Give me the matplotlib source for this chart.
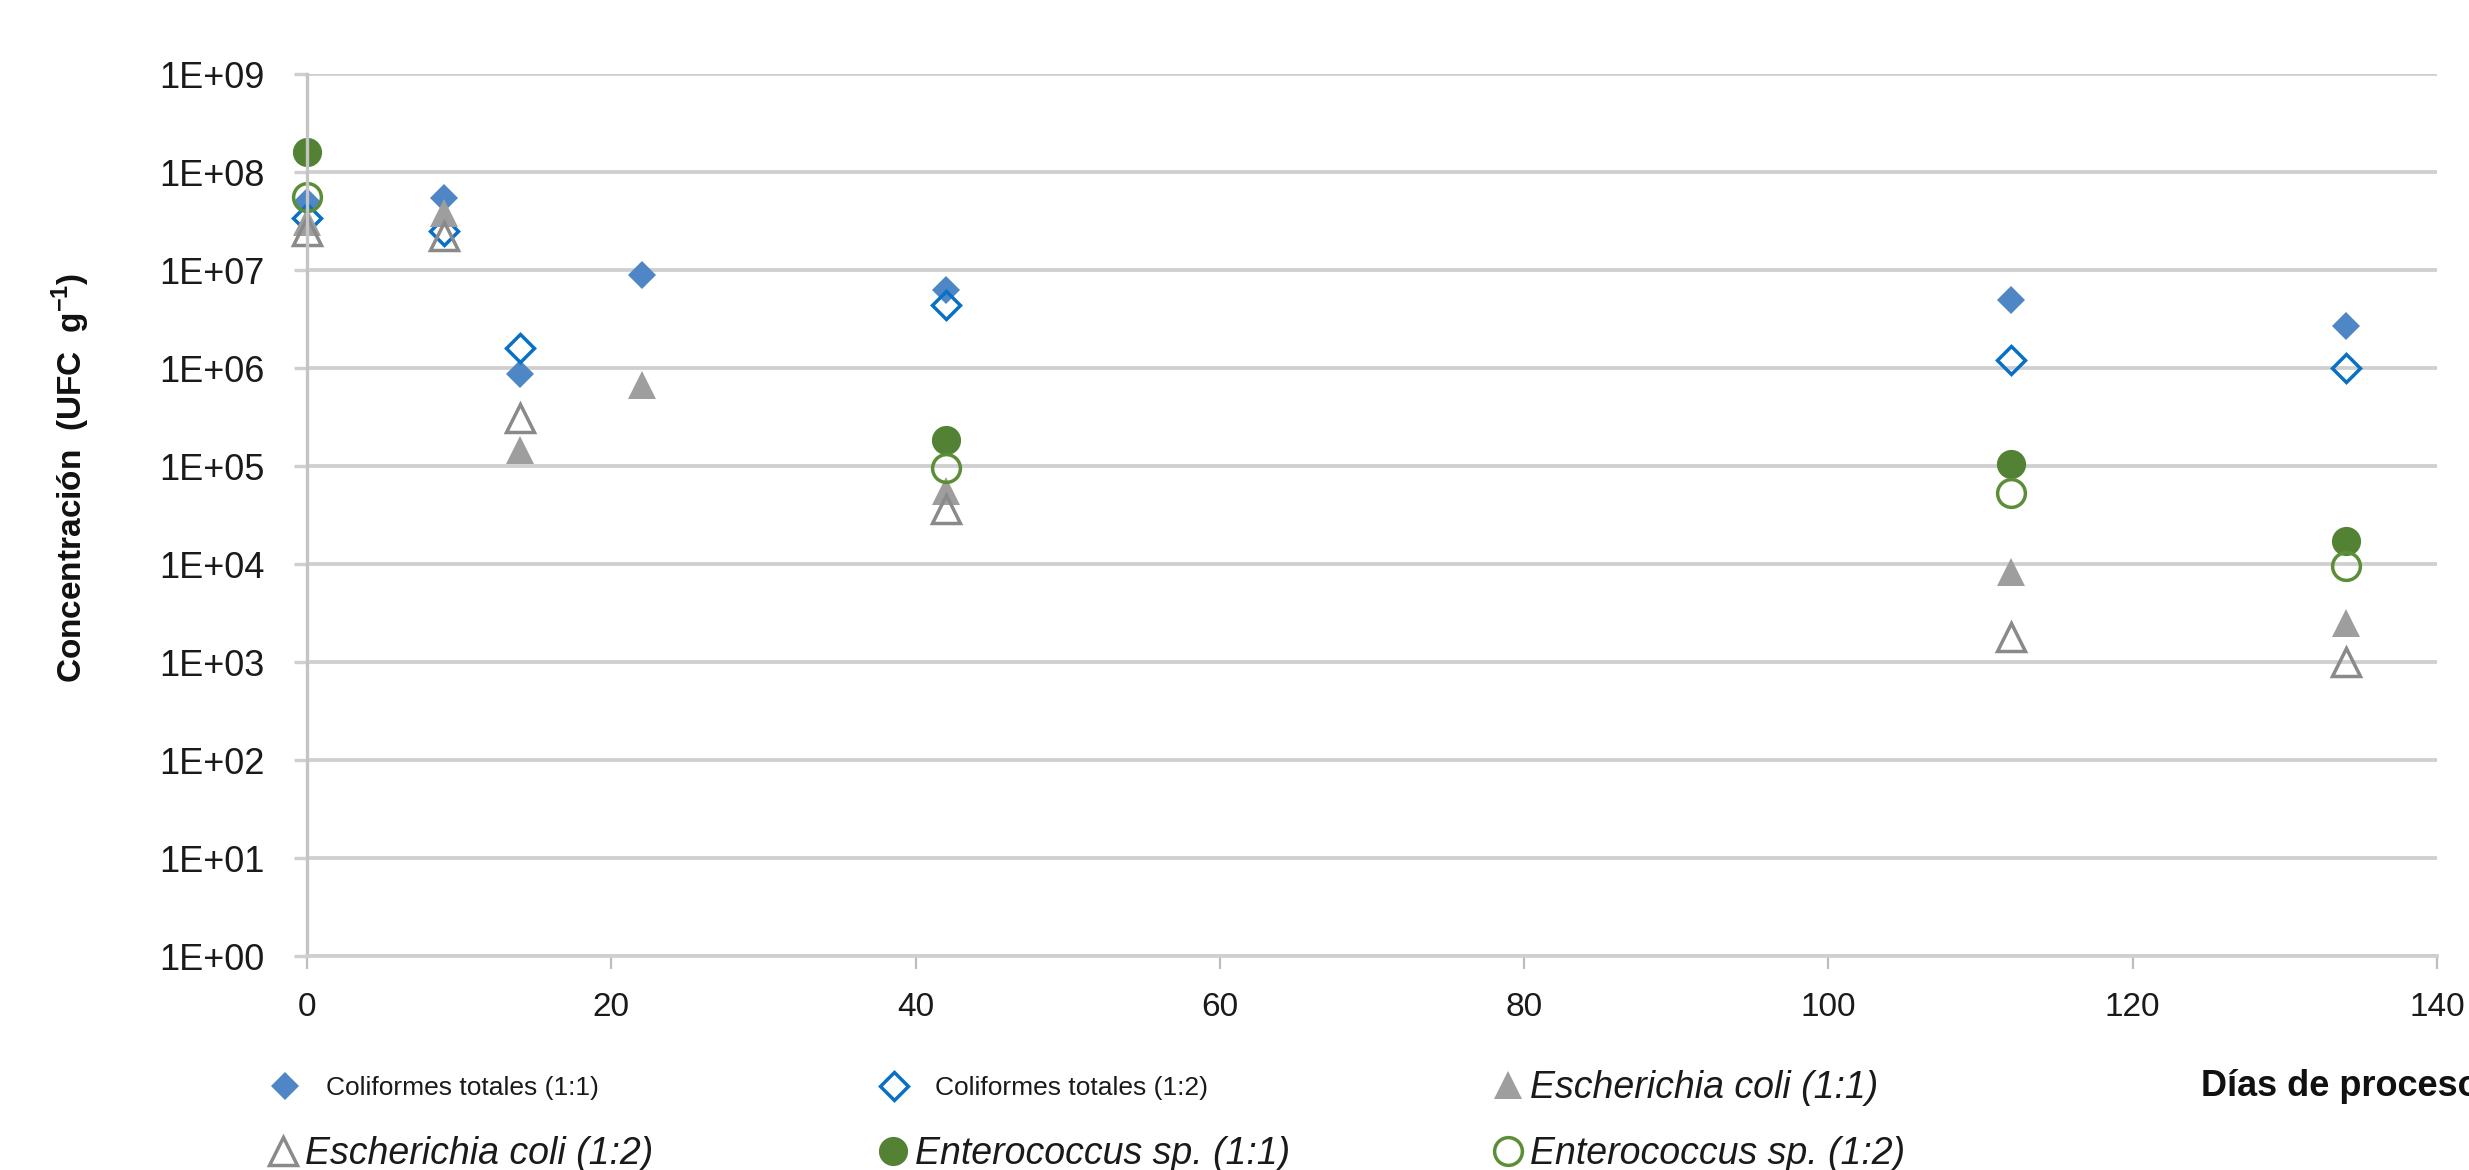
import matplotlib
matplotlib.use("Agg")
import matplotlib.pyplot as plt

plt.rcParams['font.family'] = ['Liberation Sans', 'DejaVu Sans']
plt.rcParams['mathtext.fontset'] = 'custom'
plt.rcParams['mathtext.rm'] = 'Liberation Sans'
plt.rcParams['mathtext.bf'] = 'Liberation Sans:bold'

# ---------------- data ----------------
days_c11 = [0, 9, 14, 22, 42, 112, 134]
colif_11 = [5.0e7, 5.4e7, 8.7e5, 8.9e6, 6.3e6, 4.9e6, 2.7e6]
days_c12 = [0, 9, 14, 42, 112, 134]
colif_12 = [3.4e7, 2.5e7, 1.6e6, 4.4e6, 1.2e6, 1.0e6]
days_e11 = [0, 9, 14, 22, 42, 112, 134]
ecoli_11 = [3.1e7, 3.8e7, 1.45e5, 6.7e5, 5.5e4, 8.3e3, 2.5e3]
days_e12 = [0, 9, 14, 42, 112, 134]
ecoli_12 = [2.5e7, 2.2e7, 3.1e5, 3.6e4, 1.8e3, 1.0e3]
days_ent = [0, 42, 112, 134]
entero_11 = [1.6e8, 1.86e5, 1.04e5, 1.7e4]
entero_12 = [5.5e7, 9.5e4, 5.3e4, 9.5e3]

x_ticks = [0, 20, 40, 60, 80, 100, 120, 140]
y_ticks = [1e0, 1e1, 1e2, 1e3, 1e4, 1e5, 1e6, 1e7, 1e8, 1e9]
y_tick_labels = ['1E+00', '1E+01', '1E+02', '1E+03', '1E+04',
                 '1E+05', '1E+06', '1E+07', '1E+08', '1E+09']

labels = ['Coliformes totales (1:1)', 'Coliformes totales (1:2)',
          'Escherichia coli (1:1)', 'Escherichia coli (1:2)',
          'Enterococcus sp. (1:1)', 'Enterococcus sp. (1:2)']

# ---------------- figure ----------------
W, H = 2469, 1170
fig = plt.figure(figsize=(W / 100, H / 100), dpi=100)
ax = fig.add_axes([307 / W, 214 / H, 2130 / W, 882 / H])

blue_f = '#4F87C6'
blue_o = '#0A70C6'
gray_f = '#9E9E9E'
gray_o = '#8A8A8A'
green_f = '#548235'
green_o = '#5B8E36'

kw = dict(ls='none', clip_on=False)
h_c11, = ax.plot(days_c11, colif_11, marker='D', ms=14, mew=0,
                 color=blue_f, label=labels[0], **kw)
h_c12, = ax.plot(days_c12, colif_12, marker='D', ms=14.2, mew=2.5,
                 mfc='none', mec=blue_o, label=labels[1], **kw)
h_e11, = ax.plot(days_e11, ecoli_11, marker='^', ms=20, mew=0,
                 color=gray_f, label=labels[2], **kw)
h_e12, = ax.plot(days_e12, ecoli_12, marker='^', ms=19.5, mew=2.5,
                 mfc='none', mec=gray_o, label=labels[3], **kw)
h_n11, = ax.plot(days_ent, entero_11, marker='o', ms=21, mew=0,
                 color=green_f, label=labels[4], **kw)
h_n12, = ax.plot(days_ent, entero_12, marker='o', ms=20, mew=2.5,
                 mfc='none', mec=green_o, label=labels[5], **kw)

ax.set_yscale('log')
ax.set_ylim(1e0, 1e9)
ax.set_xlim(0, 140)
ax.set_yticks(y_ticks, y_tick_labels)
ax.set_xticks(x_ticks, [str(v) for v in x_ticks])
ax.minorticks_off()

grid_c = '#CFCFCF'
ax.grid(axis='y', color=grid_c, lw=2.7, zorder=0)
ax.set_axisbelow(True)
for s in ['top', 'right']:
    ax.spines[s].set_visible(False)
ax.spines['left'].set_color('#C4C4C4')
ax.spines['left'].set_linewidth(2.4)
ax.spines['bottom'].set_color(grid_c)
ax.spines['bottom'].set_linewidth(2.7)

ax.tick_params(axis='y', length=9.5, width=2.4, color=grid_c, pad=21,
               labelsize=26, labelcolor='#1A1A1A')
ax.tick_params(axis='x', length=9, width=1.6, color='#BDBDBD', pad=17,
               labelsize=24, labelcolor='#1A1A1A')

fig.text(71 / W, 1 - 478 / H, 'Concentración  (UFC  g$^{\\mathbf{-1}}$)',
         rotation=90, ha='center', va='center', fontsize=24,
         fontweight='bold', color='#111111')
fig.text(2201 / W, 1 - 1086 / H, 'Días de proceso', ha='left', va='center',
         fontsize=26, fontweight='bold', color='#111111')

# ---------------- legend (one entry each, laid out in a 3x2 grid) ----------------
# (handle, marker centre x px, row centre y px)
entries = [(h_c11, 285, 1088), (h_c12, 894, 1088), (h_e11, 1508, 1088),
           (h_e12, 283, 1154), (h_n11, 893, 1154), (h_n12, 1508, 1154)]
legs = []
for (h, xc, yc) in entries:
    colif = h.get_label().startswith('Coliformes')
    fs = 19 if colif else 27
    fs_px = fs * 100 / 72
    hl = 0.8
    left = xc - hl * fs_px / 2
    pad = 1.15 if colif else 0.19
    leg = ax.legend(handles=[h], loc='center left',
                    bbox_to_anchor=(left / W, 1 - yc / H),
                    bbox_transform=fig.transFigure, frameon=False,
                    fontsize=fs, handlelength=hl, handletextpad=pad,
                    borderpad=0, borderaxespad=0)
    for t in leg.get_texts():
        t.set_fontstyle('normal' if colif else 'italic')
        t.set_color('#1A1A1A')
    legs.append(leg)
for leg in legs[:-1]:
    ax.add_artist(leg)

fig.savefig('out.png', dpi=100)
